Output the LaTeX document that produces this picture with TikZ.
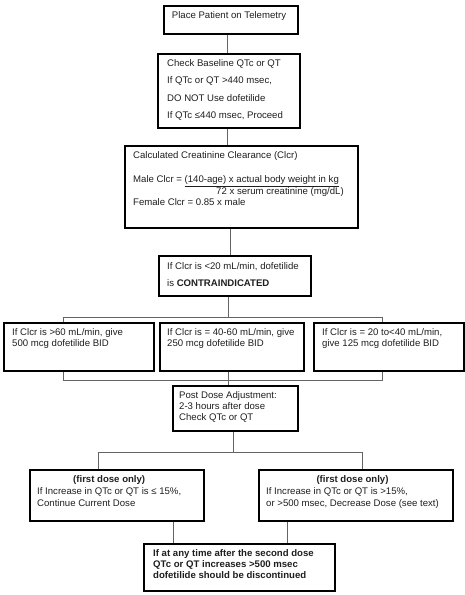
\documentclass[tikz,border=0pt]{standalone}
\usepackage{fontspec}
\setmainfont{Liberation Sans}
\usetikzlibrary{calc}
\definecolor{conngray}{RGB}{100,100,100}
\definecolor{txtcol}{RGB}{30,30,30}
\tikzset{
  box/.style={draw=black, line width=1.6pt, inner sep=0pt, anchor=north west},
  txt/.style={inner sep=0pt, anchor=base west, text=txtcol, font=\fontsize{9.6}{11}\selectfont},
  conn/.style={draw=conngray, line width=0.8pt},
}
\begin{document}
\begin{tikzpicture}[x=1pt,y=-1pt]
\useasboundingbox (0,0) rectangle (464,595);
% boxes
\node[box, minimum width=134pt, minimum height=28pt] (b1) at (163,5) {};
\node[box, minimum width=142pt, minimum height=74pt] (b2) at (157,53) {};
\node[box, minimum width=233pt, minimum height=82pt] (b3) at (124,145) {};
\node[box, minimum width=152pt, minimum height=40pt] (b4) at (158,255) {};
\node[box, minimum width=150pt, minimum height=48pt] (ra) at (3,322) {};
\node[box, minimum width=144pt, minimum height=48pt] (rb) at (159,322) {};
\node[box, minimum width=150pt, minimum height=48pt] (rc) at (313,322) {};
\node[box, minimum width=125pt, minimum height=45pt] (b5) at (172,385) {};
\node[box, minimum width=174pt, minimum height=51pt] (b6l) at (29,469) {};
\node[box, minimum width=194pt, minimum height=51pt] (b6r) at (258,469) {};
\node[box, minimum width=191pt, minimum height=47pt] (b7) at (143,543) {};
% texts
\node[txt, anchor=base] (t1) at (229,18.5) {Place Patient on Telemetry};
\node[txt, font=\fontsize{9.6}{17.3}\selectfont] (t2) at (167,66.5) {\begin{tabular}[t]{@{}l@{}}Check Baseline QTc or QT\\If QTc or QT >440 msec,\\DO NOT Use dofetilide\\If QTc ≤440 msec, Proceed\end{tabular}};
\node[txt] (t3a) at (133,158.5) {Calculated Creatinine Clearance (Clcr)};
\node[txt] (t3b) at (133,182.5) {\begin{tabular}[t]{@{}l@{}}Male Clcr = \underline{(140-age) x actual body weight in kg}\\\hspace*{83pt}72 x serum creatinine (mg/dL)\\Female Clcr = 0.85 x male\end{tabular}};
\node[txt, font=\fontsize{9.6}{17}\selectfont] (t4) at (167,269.5) {\begin{tabular}[t]{@{}l@{}}If Clcr is <20 mL/min, dofetilide\\is \textbf{CONTRAINDICATED}\end{tabular}};
\node[txt] (ta) at (12,335.5) {\begin{tabular}[t]{@{}l@{}}If Clcr is >60 mL/min, give\\500 mcg dofetilide BID\end{tabular}};
\node[txt] (tb) at (167,335.5) {\begin{tabular}[t]{@{}l@{}}If Clcr is = 40-60 mL/min, give\\250 mcg dofetilide BID\end{tabular}};
\node[txt] (tc) at (322,335.5) {\begin{tabular}[t]{@{}l@{}}If Clcr is = 20 to<40 mL/min,\\give 125 mcg dofetilide BID\end{tabular}};
\node[txt, font=\fontsize{9.6}{11.2}\selectfont] (t5) at (179,398.5) {\begin{tabular}[t]{@{}l@{}}Post Dose Adjustment:\\2-3 hours after dose\\Check QTc or QT\end{tabular}};
\node[txt, font=\fontsize{9.6}{12}\selectfont] (t6l) at (37,482.5) {\begin{tabular}[t]{@{}l@{}}\multicolumn{1}{@{}c@{}}{\textbf{(first dose only)}}\\If Increase in QTc or QT is ≤ 15\%,\\Continue Current Dose\end{tabular}};
\node[txt, font=\fontsize{9.6}{12}\selectfont] (t6r) at (266,482.5) {\begin{tabular}[t]{@{}l@{}}\multicolumn{1}{@{}c@{}}{\textbf{(first dose only)}}\\If Increase in QTc or QT is >15\%,\\or >500 msec, Decrease Dose (see text)\end{tabular}};
\node[txt, font=\bfseries\fontsize{9.6}{11.2}\selectfont] (t7) at (153,556) {\begin{tabular}[t]{@{}l@{}}If at any time after the second dose\\QTc or QT increases >500 msec\\dofetilide should be discontinued\end{tabular}};
% connector coordinates
\coordinate (s1) at (227,0);
\coordinate (s2) at (230,0);
\coordinate (s3) at (228,0);
\coordinate (s4) at (233,0);
\coordinate (xa) at (63,0);
\coordinate (xc) at (382,0);
\coordinate (xl) at (98,0);
\coordinate (xr) at (362,0);
\coordinate (xm) at (173,0);
\coordinate (xn) at (287,0);
\coordinate (bus1) at (0,317);
\coordinate (bus2) at (0,380);
\coordinate (bus3) at (0,452);
% connectors
\draw[conn] (b1.south -| s1) -- (b2.north -| s1);
\draw[conn] (b2.south -| s1) -- (b3.north -| s1);
\draw[conn] (b3.south -| s2) -- (b4.north -| s2);
\draw[conn] (b4.south -| s3) -- (s3 |- bus1);
\draw[conn] (ra.north -| xa) -- (xa |- bus1) -- (xc |- bus1) -- (rc.north -| xc);
\draw[conn] (ra.south -| xa) -- (xa |- bus2) -- (xc |- bus2) -- (rc.south -| xc);
\draw[conn] (rb.south -| s3) -- (b5.north -| s3);
\draw[conn] (b5.south -| s4) -- (s4 |- bus3);
\draw[conn] (b6l.north -| xl) -- (xl |- bus3) -- (xr |- bus3) -- (b6r.north -| xr);
\draw[conn] (b6l.south -| xm) -- (b7.north -| xm);
\draw[conn] (b6r.south -| xn) -- (b7.north -| xn);
\end{tikzpicture}
\end{document}
